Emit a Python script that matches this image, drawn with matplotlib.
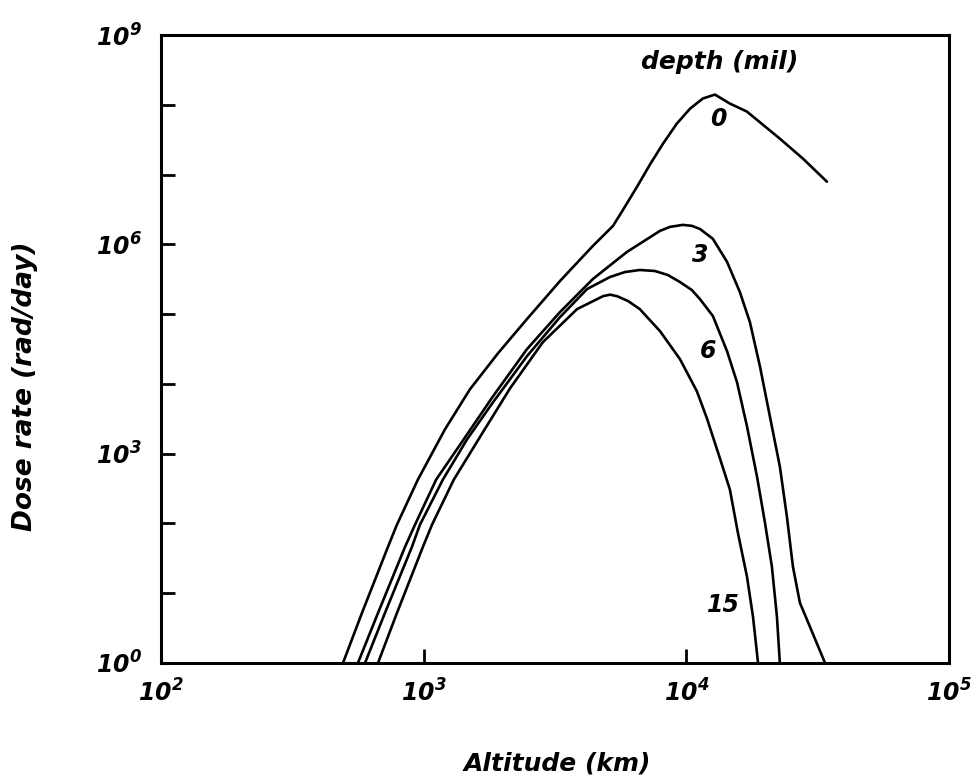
import matplotlib
matplotlib.use("Agg")
import matplotlib.pyplot as plt
from matplotlib.ticker import NullLocator, FixedLocator

# ---- data (altitude km, dose rate rad/day) ----
alt_0 = [493, 582, 731, 791, 951, 1205, 1500, 1919, 2472, 3304, 4406, 5260, 5740, 6490, 7260,
         8150, 9200, 10330, 11560, 12850, 14650, 17000, 22700, 27800, 34300]
dose_0 = [1, 5.2, 46, 96, 426, 2228, 8360, 2.75e4, 8.47e4, 2.98e5, 9.48e5, 1.84e6, 3.12e6,
          6.68e6, 1.38e7, 2.77e7, 5.37e7, 8.8e7, 1.23e8, 1.40e8, 1.04e8, 8.0e7, 3.27e7,
          1.69e7, 7.9e6]

alt_3 = [562, 670, 849, 927, 1116, 1420, 1836, 2472, 3304, 4406, 5940, 7940, 8670, 9700,
         10500, 11270, 12620, 14290, 15990, 17460, 19060, 20800, 22700, 24150, 25460, 27060,
         29560, 33730]
dose_3 = [1, 5.2, 46, 96, 426, 1600, 6630, 3.14e4, 1.07e5, 3.18e5, 7.78e5, 1.56e6, 1.78e6,
          1.90e6, 1.84e6, 1.66e6, 1.2e6, 5.6e5, 2.07e5, 7.67e4, 1.79e4, 3420, 655, 125, 24,
          7.3, 3.3, 1]

alt_6 = [598, 712, 902, 968, 1184, 1462, 1836, 2472, 3304, 4190, 5120, 5840, 6650, 7590,
         8510, 9460, 10500, 11270, 12620, 14290, 15600, 17020, 18580, 19920, 21170, 22130,
         22700]
dose_6 = [1, 5.2, 46, 96, 426, 1600, 5440, 2.49e4, 9.06e4, 2.29e5, 3.40e5, 4.01e5, 4.29e5,
          4.15e5, 3.63e5, 2.88e5, 2.21e5, 1.64e5, 9.4e4, 2.94e4, 1.05e4, 2460, 470, 103, 24,
          4.6, 1]

alt_15 = [670, 791, 993, 1076, 1303, 1652, 2133, 2843, 3837, 4820, 5120, 5445, 6000, 6650,
          7940, 9460, 10970, 11980, 13430, 14650, 15710, 17020, 17940, 18750]
dose_15 = [1, 5.2, 46, 96, 426, 1825, 8650, 3.96e4, 1.18e5, 1.81e5, 1.9e5, 1.81e5, 1.54e5,
           1.18e5, 5.70e4, 2.26e4, 7830, 3200, 853, 306, 74, 17.2, 4.6, 1]

curve_labels = ["0", "3", "6", "15"]
label_pos = [(13300, 6.2e7), (11270, 7.0e5), (12080, 2.94e4), (13900, 6.8)]

x_ticks = [1e2, 1e3, 1e4, 1e5]
x_ticklabels = [r"$10^{2}$", r"$10^{3}$", r"$10^{4}$", r"$10^{5}$"]
y_ticks = [10.0 ** k for k in range(10)]
y_ticklabels = [r"$10^{%d}$" % k if k % 3 == 0 else "" for k in range(10)]

# ---- style ----
FONT = "DejaVu Sans"
plt.rcParams["font.family"] = [FONT]
plt.rcParams["mathtext.fontset"] = "custom"
plt.rcParams["mathtext.rm"] = "DejaVu Sans:bold:italic"
plt.rcParams["mathtext.it"] = "DejaVu Sans:bold:italic"
plt.rcParams["mathtext.bf"] = "DejaVu Sans:bold:italic"

fig = plt.figure(figsize=(9.71, 7.77), dpi=100)
ax = fig.add_axes([161 / 971, 1 - 663 / 777, (949 - 161) / 971, (663 - 35) / 777])

for xs, ys in [(alt_0, dose_0), (alt_3, dose_3), (alt_6, dose_6), (alt_15, dose_15)]:
    ax.plot(xs, ys, color="black", lw=1.9, solid_joinstyle="round", solid_capstyle="round")

ax.set_xscale("log")
ax.set_yscale("log")
ax.set_xlim(1e2, 1e5)
ax.set_ylim(1, 1e9)

ax.xaxis.set_major_locator(FixedLocator(x_ticks))
ax.yaxis.set_major_locator(FixedLocator(y_ticks))
ax.xaxis.set_minor_locator(NullLocator())
ax.yaxis.set_minor_locator(NullLocator())
ax.set_xticklabels(x_ticklabels)
ax.set_yticklabels(y_ticklabels)
ax.tick_params(axis="both", direction="in", length=10, width=2, labelsize=17,
               top=False, right=False)
ax.tick_params(axis="x", pad=12)
ax.tick_params(axis="y", pad=14)

for s in ax.spines.values():
    s.set_linewidth(2.2)

for lab, (lx, ly) in zip(curve_labels, label_pos):
    ax.text(lx, ly, lab, fontsize=17, fontweight="bold", fontstyle="italic",
            ha="center", va="center")

ax.text(0.709, 0.957, "depth (mil)", transform=ax.transAxes, fontsize=18,
        fontweight="bold", fontstyle="italic", ha="center", va="center")

fig.text(557 / 971, 1 - 763 / 777, "Altitude (km)", fontsize=18, fontweight="bold",
         fontstyle="italic", ha="center", va="center")
fig.text(25 / 971, 1 - 386 / 777, "Dose rate (rad/day)", fontsize=19, fontweight="bold",
         fontstyle="italic", ha="center", va="center", rotation=90)

fig.savefig("out.png", dpi=100)
